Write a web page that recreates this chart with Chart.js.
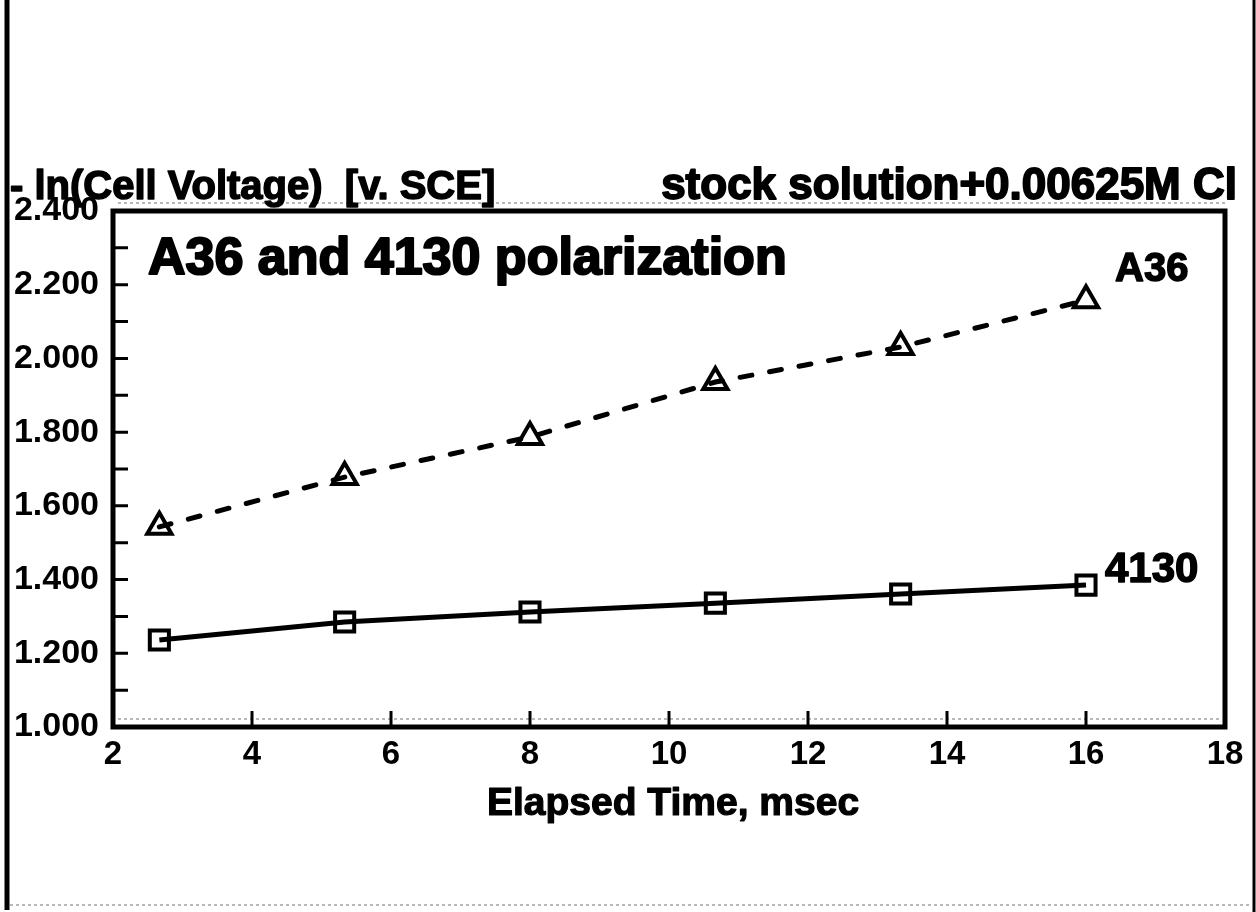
<!DOCTYPE html>
<html>
<head>
<meta charset="utf-8">
<script src="https://cdn.jsdelivr.net/npm/chart.js@4.4.1/dist/chart.umd.min.js"></script>
<style>
  html, body { margin: 0; padding: 0; background: #fff; }
  canvas { display: block; }
</style>
</head>
<body>
<canvas id="polChart" width="1256" height="912"></canvas>
<script>
/* =========================
   DATA
========================= */
const timeMs = [2.667, 5.333, 8, 10.667, 13.333, 16];
const a36Values = [1.543, 1.678, 1.787, 1.936, 2.031, 2.158];
const s4130Values = [1.236, 1.285, 1.312, 1.336, 1.361, 1.385];

const xTicks = [2, 4, 6, 8, 10, 12, 14, 16, 18];
const yTicks = [1.0, 1.2, 1.4, 1.6, 1.8, 2.0, 2.2, 2.4];
const yMinorTicks = [1.1, 1.2, 1.3, 1.4, 1.5, 1.6, 1.7, 1.8, 1.9, 2.0, 2.1, 2.2, 2.3];

const FONT = "'Liberation Sans', Arial, Helvetica, sans-serif";

/* =========================
   HEAVY TEXT HELPER
========================= */
function heavyText(ctx, text, x, y, size, stroke) {
  ctx.font = "bold " + size + "px " + FONT;
  ctx.lineWidth = stroke;
  ctx.lineJoin = "round";
  ctx.strokeText(text, x, y);
  ctx.fillText(text, x, y);
}

/* =========================
   FRAME, TICKS, TEXT
========================= */
const paperPlugin = {
  id: "paper",
  afterDraw(chart) {
    const ctx = chart.ctx;
    const area = chart.chartArea;
    const xs = chart.scales.x;
    const ys = chart.scales.y;

    ctx.save();

    // faint scan lines
    ctx.strokeStyle = "#b8b8b8";
    ctx.lineWidth = 2;
    ctx.setLineDash([3, 3]);
    ctx.beginPath();
    ctx.moveTo(area.left + 5, area.top - 8);
    ctx.lineTo(area.right, area.top - 8);
    ctx.moveTo(area.left + 5, area.bottom - 8);
    ctx.lineTo(area.right - 5, area.bottom - 8);
    ctx.moveTo(10, 905);
    ctx.lineTo(1250, 905);
    ctx.stroke();
    ctx.setLineDash([]);

    // outer border
    ctx.strokeStyle = "#000";
    ctx.lineWidth = 5;
    ctx.beginPath();
    ctx.moveTo(7, 0);
    ctx.lineTo(7, 910);
    ctx.stroke();
    ctx.lineWidth = 3;
    ctx.beginPath();
    ctx.moveTo(1254, 0);
    ctx.lineTo(1254, 912);
    ctx.stroke();

    // plot frame
    ctx.lineWidth = 5;
    ctx.strokeRect(area.left, area.top, area.right - area.left, area.bottom - area.top);

    // inward ticks
    ctx.lineWidth = 3;
    ctx.beginPath();
    yMinorTicks.forEach(v => {
      const y = ys.getPixelForValue(v);
      ctx.moveTo(area.left, y);
      ctx.lineTo(area.left + 15, y);
    });
    xTicks.slice(1, -1).forEach(v => {
      const x = xs.getPixelForValue(v);
      ctx.moveTo(x, area.bottom);
      ctx.lineTo(x, area.bottom - 16);
    });
    ctx.stroke();

    // texts
    ctx.fillStyle = "#000";
    ctx.strokeStyle = "#000";
    ctx.textBaseline = "alphabetic";

    ctx.textAlign = "left";
    heavyText(ctx, "- ln(Cell Voltage)  [v. SCE]", 10, 199, 40, 1.5);

    ctx.textAlign = "right";
    heavyText(ctx, "stock solution+0.00625M Cl", 1237, 199, 44, 1.8);

    ctx.textAlign = "left";
    heavyText(ctx, "A36 and 4130 polarization", 148, 274, 52, 2.2);
    heavyText(ctx, "A36", 1115, 281, 40, 1.5);
    heavyText(ctx, "4130", 1105, 582, 42, 1.5);

    ctx.textAlign = "center";
    heavyText(ctx, "Elapsed Time, msec", 673, 815, 39, 1.2);

    ctx.restore();
  }
};

/* =========================
   CHART
========================= */
new Chart(document.getElementById("polChart"), {
  type: "line",
  data: {
    datasets: [
      {
        label: "A36",
        data: timeMs.map((t, i) => ({ x: t, y: a36Values[i] })),
        borderColor: "#000",
        borderWidth: 5,
        borderDash: [12, 18],
        borderCapStyle: "round",
        pointStyle: "triangle",
        pointRadius: 14,
        pointBorderWidth: 4,
        pointBorderColor: "#000",
        pointBackgroundColor: "rgba(0,0,0,0)",
        tension: 0
      },
      {
        label: "4130",
        data: timeMs.map((t, i) => ({ x: t, y: s4130Values[i] })),
        borderColor: "#000",
        borderWidth: 5,
        pointStyle: "rect",
        pointRadius: 13.5,
        pointBorderWidth: 4,
        pointBorderColor: "#000",
        pointBackgroundColor: "rgba(0,0,0,0)",
        tension: 0
      }
    ]
  },
  options: {
    responsive: false,
    devicePixelRatio: 1,
    animation: false,
    layout: {
      padding: { top: 211, right: 31, bottom: 125, left: 8 }
    },
    plugins: {
      legend: { display: false },
      tooltip: { enabled: false }
    },
    scales: {
      x: {
        type: "linear",
        min: 2,
        max: 18,
        afterFit: s => { s.height = 60; },
        afterBuildTicks: s => { s.ticks = xTicks.map(v => ({ value: v })); },
        grid: { display: false, drawTicks: false },
        border: { display: false },
        ticks: {
          color: "#000",
          padding: 8,
          font: { family: FONT, size: 33, weight: "bold" }
        }
      },
      y: {
        type: "linear",
        min: 1,
        max: 2.4,
        afterFit: s => { s.width = 105; },
        afterBuildTicks: s => { s.ticks = yTicks.map(v => ({ value: v })); },
        grid: { display: false, drawTicks: false },
        border: { display: false },
        ticks: {
          color: "#000",
          padding: 14,
          font: { family: FONT, size: 34, weight: "bold" },
          callback: v => Number(v).toFixed(3)
        }
      }
    }
  },
  plugins: [paperPlugin]
});
</script>
</body>
</html>
